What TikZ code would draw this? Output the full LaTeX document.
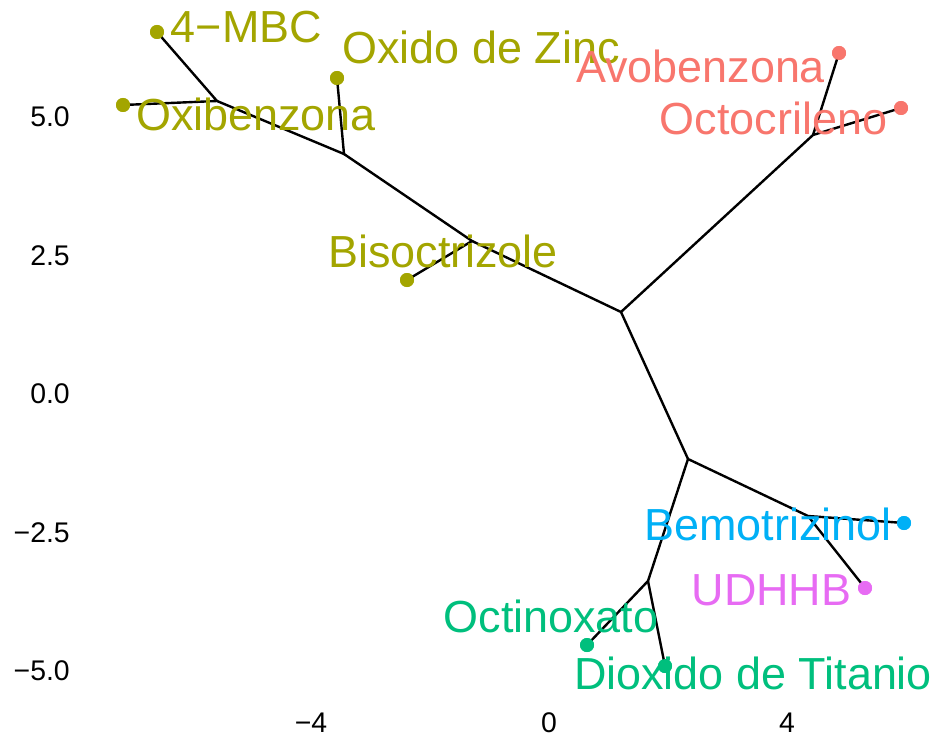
\documentclass[tikz,border=0pt]{standalone}
\usepackage{fontspec}
\setmainfont{Liberation Sans}
\definecolor{cOl}{HTML}{A3A500}
\definecolor{cRd}{HTML}{F8766D}
\definecolor{cGr}{HTML}{00BF7D}
\definecolor{cBl}{HTML}{00B0F6}
\definecolor{cPk}{HTML}{E76BF3}
\begin{document}
\begin{tikzpicture}[x=0.75pt,y=-0.75pt,
  edge/.style={line width=1.8pt,black},
  tip/.style={circle,fill=#1,inner sep=0pt,minimum size=10.5pt},
  lbl/.style={text=#1,inner sep=0pt,anchor=base,font=\fontsize{33.7}{38}\selectfont},
  tick/.style={inner sep=0pt,font=\fontsize{21.3}{25}\selectfont,text=black}]
\useasboundingbox (0,0) rectangle (937,738);
% internal nodes
\coordinate (A) at (217,101);
\coordinate (B) at (344,154);
\coordinate (C) at (472,241);
\coordinate (D) at (621,312);
\coordinate (E) at (813,135);
\coordinate (F) at (688,459);
\coordinate (G) at (808,516);
\coordinate (H) at (648,581);
% tips
\node[tip=cOl] (mbc) at (157,32) {};
\node[tip=cOl] (oxi) at (123,105) {};
\node[tip=cOl] (zinc) at (337,78) {};
\node[tip=cOl] (bis) at (407,280) {};
\node[tip=cRd] (avo) at (839,53) {};
\node[tip=cRd] (octo) at (901,108) {};
\node[tip=cBl] (bemo) at (904,523) {};
\node[tip=cPk] (udh) at (865,588) {};
\node[tip=cGr] (octi) at (587,645) {};
\node[tip=cGr] (diox) at (665,666) {};
% edges
\draw[edge] (mbc.center) -- (A) -- (oxi.center);
\draw[edge] (A) -- (B) -- (zinc.center);
\draw[edge] (B) -- (C) -- (bis.center);
\draw[edge] (C) -- (D) -- (E) -- (avo.center);
\draw[edge] (E) -- (octo.center);
\draw[edge] (D) -- (F) -- (G) -- (bemo.center);
\draw[edge] (G) -- (udh.center);
\draw[edge] (F) -- (H) -- (octi.center);
\draw[edge] (H) -- (diox.center);
% redraw dots above edges
\foreach \n/\c in {mbc/cOl,oxi/cOl,zinc/cOl,bis/cOl,avo/cRd,octo/cRd,bemo/cBl,udh/cPk,octi/cGr,diox/cGr}
  \fill[\c] (\n) circle (5.25pt);
% labels
\node[lbl=cOl] (tmbc) at (246.5,43) {4−MBC};
\node[lbl=cOl] (tzinc) at (481,64) {Oxido de Zinc};
\node[lbl=cOl] (toxi) at (256,131) {Oxibenzona};
\node[lbl=cRd] (tavo) at (700.5,83) {Avobenzona};
\node[lbl=cRd] (tocto) at (773.5,134) {Octocrileno};
\node[lbl=cOl] (tbis) at (443,267) {Bisoctrizole};
\node[lbl=cBl] (tbemo) at (768,540) {Bemotrizinol};
\node[lbl=cPk] (tudh) at (771.5,605) {UDHHB};
\node[lbl=cGr] (tocti) at (551,632) {Octinoxato};
\node[lbl=cGr] (tdiox) at (753,689) {Dioxido de Titanio};
% axis tick labels
\node[tick,anchor=base east] (y1) at (70,127) {5.0};
\node[tick,anchor=base east] (y2) at (70,265) {2.5};
\node[tick,anchor=base east] (y3) at (70,403) {0.0};
\node[tick,anchor=base east] (y4) at (70,542) {−2.5};
\node[tick,anchor=base east] (y5) at (70,680) {−5.0};
\node[tick,anchor=base] (x1) at (311,732) {−4};
\node[tick,anchor=base] (x2) at (549,732) {0};
\node[tick,anchor=base] (x3) at (787,732) {4};
\end{tikzpicture}
\end{document}
